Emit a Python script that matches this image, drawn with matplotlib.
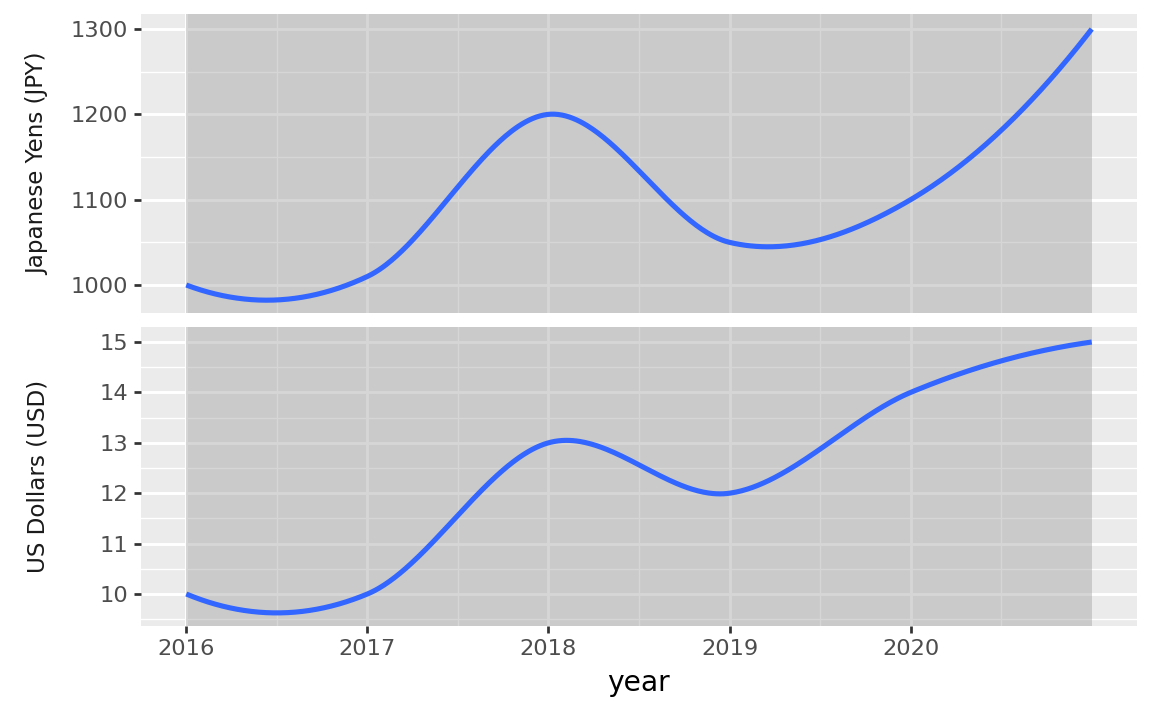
import numpy as np
import matplotlib
matplotlib.use("Agg")
import matplotlib.pyplot as plt

years = [2016, 2017, 2018, 2019, 2020, 2021]
jpy = [1000, 1010, 1200, 1050, 1100, 1300]
usd = [10, 10, 13, 12, 14, 15]
x_ticks = [2016, 2017, 2018, 2019, 2020]
jpy_ticks = [1000, 1100, 1200, 1300]
usd_ticks = [10, 11, 12, 13, 14, 15]
panel_titles = ["Japanese Yens (JPY)", "US Dollars (USD)"]


def local_quad_smooth(x, y, xs):
    """Smooth curve through the points: slopes from local quadratics
    (3 nearest points), cubic Hermite between the points."""
    x = np.asarray(x, float)
    y = np.asarray(y, float)
    n = len(x)
    m = np.zeros(n)
    for i in range(n):
        j = min(max(i - 1, 0), n - 3)
        c = np.polyfit(x[j:j + 3] - x[i], y[j:j + 3], 2)
        m[i] = c[1]
    idx = np.clip(np.searchsorted(x, xs) - 1, 0, n - 2)
    h = x[idx + 1] - x[idx]
    s = (xs - x[idx]) / h
    h00 = 2 * s ** 3 - 3 * s ** 2 + 1
    h10 = s ** 3 - 2 * s ** 2 + s
    h01 = -2 * s ** 3 + 3 * s ** 2
    h11 = s ** 3 - s ** 2
    return h00 * y[idx] + h10 * h * m[idx] + h01 * y[idx + 1] + h11 * h * m[idx + 1]


W, H = 1152, 711
fig = plt.figure(figsize=(W / 100, H / 100), dpi=100)
fig.patch.set_facecolor("white")

panels = [
    (14, 313, jpy, jpy_ticks, (967.2, 1317.6)),
    (327, 626, usd, usd_ticks, (9.365, 15.298)),
]
left, right = 141, 1137
xlim = (2015.75, 2021.25)
xs = np.linspace(years[0], years[-1], 500)

for k, (top, bot, vals, yt, ylim) in enumerate(panels):
    ax = fig.add_axes([left / W, (H - bot) / H, (right - left) / W, (bot - top) / H])
    ax.set_facecolor("#EBEBEB")
    for s in ax.spines.values():
        s.set_visible(False)
    ax.set_xlim(*xlim)
    ax.set_ylim(*ylim)
    step = yt[1] - yt[0]
    minor_y = [v + step / 2 for v in [yt[0] - step] + yt]
    for v in minor_y:
        if ylim[0] < v < ylim[1]:
            ax.axhline(v, color="white", lw=1.0, zorder=0.5)
    for v in yt:
        ax.axhline(v, color="white", lw=2.1, zorder=0.6)
    for v in [t + 0.5 for t in x_ticks]:
        ax.axvline(v, color="white", lw=1.0, zorder=0.5)
    for v in x_ticks:
        ax.axvline(v, color="white", lw=2.1, zorder=0.6)
    ax.fill_between([years[0], years[-1]], [ylim[0] - 1e4] * 2, [ylim[1] + 1e4] * 2,
                    color="#999999", alpha=0.4, lw=0, zorder=1)
    ax.plot(xs, local_quad_smooth(years, vals, xs), color="#3366FF", lw=3.7,
            solid_capstyle="butt", zorder=2)
    ax.set_yticks(yt)
    ax.set_yticklabels([str(v) for v in yt])
    ax.set_xticks(x_ticks)
    ax.tick_params(axis="both", length=5.0, width=1.97, color="#333333",
                   labelcolor="#4D4D4D", labelsize=16.2, pad=4.2)
    if k == 0:
        ax.tick_params(axis="x", bottom=False, labelbottom=False)
    else:
        ax.set_xticklabels([str(v) for v in x_ticks])
    fig.text(38 / W, (H - (top + bot) / 2) / H, panel_titles[k], rotation=90,
             ha="center", va="center", fontsize=16.6, color="#1A1A1A")

fig.text((left + right) / 2 / W, (H - 691) / H, "year", ha="center", va="baseline",
         fontsize=20.25, color="black")

fig.savefig("out.png", dpi=100, facecolor="white")
